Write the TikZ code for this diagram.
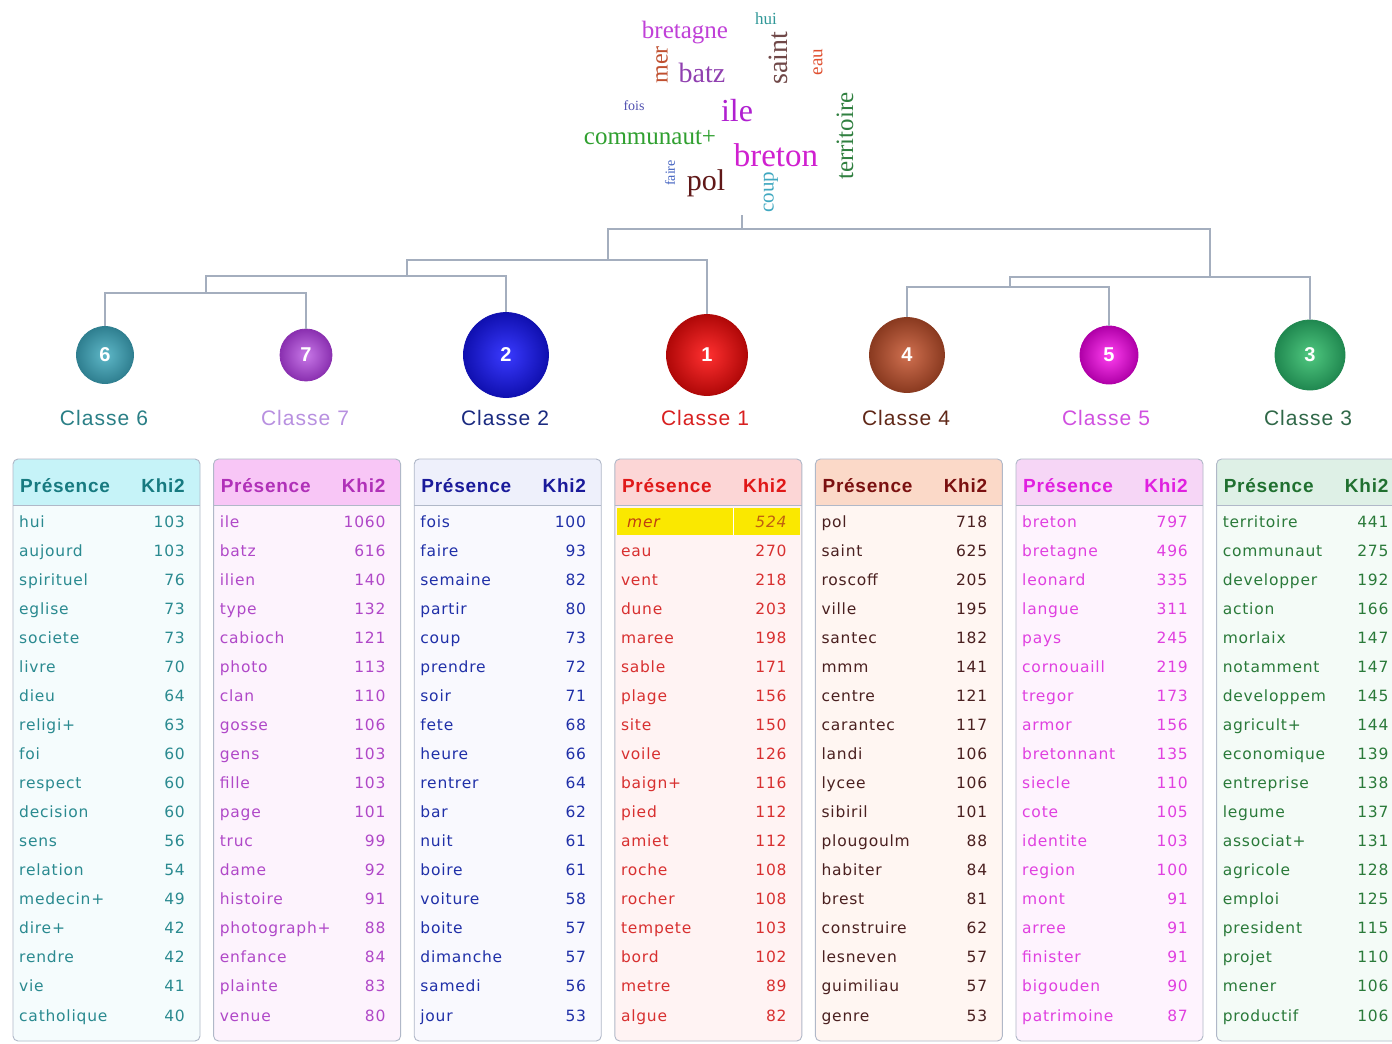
\documentclass[tikz,border=0pt]{standalone}
\usepackage{fontspec}
\setmainfont{Liberation Sans}
\newfontfamily\tabfont[LetterSpace=5]{DejaVu Sans}
\newfontfamily\hdrfont[LetterSpace=4]{Liberation Sans}
\newfontfamily\lblfont[LetterSpace=5]{Liberation Sans}
\newfontfamily\cloudfont{Liberation Serif}

\definecolor{tborder}{HTML}{B0B8C8}
\definecolor{dline}{HTML}{A4AEBE}
% table colours
\definecolor{hA}{HTML}{C6F3F8}\definecolor{bA}{HTML}{F5FCFD}\definecolor{thA}{HTML}{177A80}\definecolor{tbA}{HTML}{2A8A90}
\definecolor{hB}{HTML}{F8C6F6}\definecolor{bB}{HTML}{FDF3FD}\definecolor{thB}{HTML}{B030B8}\definecolor{tbB}{HTML}{B048C8}
\definecolor{hC}{HTML}{EEF0FB}\definecolor{bC}{HTML}{F9F9FE}\definecolor{thC}{HTML}{1A1A9A}\definecolor{tbC}{HTML}{2030A8}
\definecolor{hD}{HTML}{FCD6D6}\definecolor{bD}{HTML}{FFF3F3}\definecolor{thD}{HTML}{E01818}\definecolor{tbD}{HTML}{D83030}
\definecolor{hE}{HTML}{FBD9C8}\definecolor{bE}{HTML}{FFF6F2}\definecolor{thE}{HTML}{7A1010}\definecolor{tbE}{HTML}{4A2020}
\definecolor{hF}{HTML}{F6D6F6}\definecolor{bF}{HTML}{FEF3FE}\definecolor{thF}{HTML}{E020E0}\definecolor{tbF}{HTML}{E040E0}
\definecolor{hG}{HTML}{DEF0E6}\definecolor{bG}{HTML}{F4FBF7}\definecolor{thG}{HTML}{207030}\definecolor{tbG}{HTML}{2A7A3A}
% label colours
\definecolor{l6}{HTML}{2A7F86}\definecolor{l7}{HTML}{B890E0}\definecolor{l2}{HTML}{1A2A80}
\definecolor{l1}{HTML}{D82020}\definecolor{l4}{HTML}{602818}\definecolor{l5}{HTML}{D050E0}\definecolor{l3}{HTML}{306848}
% ball colours
\definecolor{i6}{HTML}{5FB8C8}\definecolor{o6}{HTML}{2F7F90}
\definecolor{i7}{HTML}{C878E8}\definecolor{o7}{HTML}{8A30B0}
\definecolor{i2}{HTML}{3A3AFF}\definecolor{o2}{HTML}{1010B0}
\definecolor{i1}{HTML}{FF3030}\definecolor{o1}{HTML}{B00808}
\definecolor{i4}{HTML}{D07050}\definecolor{o4}{HTML}{8A3A20}
\definecolor{i5}{HTML}{FF40F0}\definecolor{o5}{HTML}{B000A8}
\definecolor{i3}{HTML}{50C880}\definecolor{o3}{HTML}{208850}
% cloud colours
\definecolor{kbretagne}{HTML}{C040D8}\definecolor{khui}{HTML}{309898}
\definecolor{kmer}{HTML}{C05030}\definecolor{kbatz}{HTML}{9040B0}
\definecolor{ksaint}{HTML}{704848}\definecolor{keau}{HTML}{E05030}
\definecolor{kfois}{HTML}{5050B0}\definecolor{kile}{HTML}{B020D0}
\definecolor{kterr}{HTML}{308040}\definecolor{kcomm}{HTML}{30A030}
\definecolor{kbreton}{HTML}{D020D0}\definecolor{kfaire}{HTML}{4060C0}
\definecolor{kpol}{HTML}{601818}\definecolor{kcoup}{HTML}{40A8C0}
\definecolor{hlyellow}{HTML}{FAE800}\definecolor{hltext}{HTML}{C04010}\definecolor{hlnum}{HTML}{C06010}

\tikzset{
  tbox/.style={draw=tborder, line width=0.9pt, rounded corners=5pt},
  sepline/.style={draw=tborder, line width=0.9pt},
  hdr/.style={inner sep=0pt, font=\hdrfont\bfseries\fontsize{19}{22}\selectfont},
  cell/.style={inner sep=0pt, font=\tabfont\fontsize{15.5}{18}\selectfont},
  dendro/.style={draw=dline, line width=1.5pt},
  ball/.style n args={3}{circle, minimum size=#1, inner sep=0pt, shading=radial,
     inner color=#2, outer color=#3, draw=#3, line width=0.8pt,
     text=white, font=\bfseries\fontsize{20}{20}\selectfont},
  clabel/.style={inner sep=0pt, font=\lblfont\fontsize{21}{24}\selectfont},
  cw/.style={inner sep=0pt},
}

\newcommand\drawtable[8]{%
  \fill[#4, rounded corners=5pt] (#2,459) rectangle ++(187,582);
  \fill[#3, rounded corners=5pt] (#2,459) rectangle ++(187,46);
  \fill[#3] (#2,495) rectangle ++(187,10);
  \draw[tbox] (#2,459) rectangle ++(187,582);
  \draw[sepline] (#2,505) -- ++(187,0);
  \node[hdr, text=#5, anchor=base west] (#1-hp) at ({#2+7},492) {Présence};
  \node[hdr, text=#5, anchor=base east] (#1-hk) at ({#2+172},492) {Khi2};
  \foreach \w/\v [count=\r from #7] in {#8} {
    \node[cell, text=#6, anchor=base west] (#1-w\r) at ({#2+6},{527+29.06*\r}) {\w};
    \node[cell, text=#6, anchor=base east] (#1-v\r) at ({#2+172},{527+29.06*\r}) {\v};
  }
}

\begin{document}
\begin{tikzpicture}[x=1pt,y=-1pt]
\path[use as bounding box] (0,0) rectangle (1392,1044);
\begin{scope}
\clip (0,0) rectangle (1392,1044);
\fill[white] (0,0) rectangle (1392,1044);

% ---------- word cloud ----------
\node[cw, text=kbretagne, font=\cloudfont\fontsize{25}{25}\selectfont] (wbretagne) at (685,33) {bretagne};
\node[cw, text=khui, font=\cloudfont\fontsize{17}{17}\selectfont] (whui) at (766,19) {hui};
\node[cw, rotate=90, text=kmer, font=\cloudfont\fontsize{24}{24}\selectfont] (wmer) at (662,65) {mer};
\node[cw, text=kbatz, font=\cloudfont\fontsize{28}{28}\selectfont] (wbatz) at (702,73) {batz};
\node[cw, rotate=90, text=ksaint, font=\cloudfont\fontsize{28}{28}\selectfont] (wsaint) at (778,58) {saint};
\node[cw, rotate=90, text=keau, font=\cloudfont\fontsize{19}{19}\selectfont] (weau) at (818,62) {eau};
\node[cw, text=kfois, font=\cloudfont\fontsize{14}{14}\selectfont] (wfois) at (634,106) {fois};
\node[cw, text=kile, font=\cloudfont\fontsize{32}{32}\selectfont] (wile) at (737,111) {ile};
\node[cw, rotate=90, text=kterr, font=\cloudfont\fontsize{25}{25}\selectfont] (wterritoire) at (845,136) {territoire};
\node[cw, text=kcomm, font=\cloudfont\fontsize{25}{25}\selectfont] (wcommunaut) at (650,138) {communaut+};
\node[cw, text=kbreton, font=\cloudfont\fontsize{33}{33}\selectfont] (wbreton) at (776,155) {breton};
\node[cw, rotate=90, text=kfaire, font=\cloudfont\fontsize{14}{14}\selectfont] (wfaire) at (670,173) {faire};
\node[cw, text=kpol, font=\cloudfont\fontsize{30}{30}\selectfont] (wpol) at (706,183) {pol};
\node[cw, rotate=90, text=kcoup, font=\cloudfont\fontsize{21}{21}\selectfont] (wcoup) at (771,192) {coup};

% ---------- circles ----------
\node[ball={57pt}{i6}{o6}] (c6) at (105,355) {6};
\node[ball={52pt}{i7}{o7}] (c7) at (306,355) {7};
\node[ball={85pt}{i2}{o2}] (c2) at (506,355) {2};
\node[ball={81pt}{i1}{o1}] (c1) at (707,355) {1};
\node[ball={75pt}{i4}{o4}] (c4) at (907,355) {4};
\node[ball={58pt}{i5}{o5}] (c5) at (1109,355) {5};
\node[ball={70pt}{i3}{o3}] (c3) at (1310,355) {3};

% ---------- class labels ----------
\node[clabel, text=l6] (lab6) at (104,418) {Classe 6};
\node[clabel, text=l7] (lab7) at (305,418) {Classe 7};
\node[clabel, text=l2] (lab2) at (505,418) {Classe 2};
\node[clabel, text=l1] (lab1) at (705,418) {Classe 1};
\node[clabel, text=l4] (lab4) at (906,418) {Classe 4};
\node[clabel, text=l5] (lab5) at (1106,418) {Classe 5};
\node[clabel, text=l3] (lab3) at (1308,418) {Classe 3};

% ---------- dendrogram ----------
\coordinate (top) at (742,215);
\coordinate (jroot) at (742,229);
\coordinate (j6721) at (608,260);
\coordinate (j672) at (407,276);
\coordinate (j67) at (206,293);
\coordinate (j453) at (1210,277);
\coordinate (j45) at (1010,287);
\draw[dendro] (c6.north) |- (j67) -| (c7.north);
\draw[dendro] (j67) |- (j672) -| (c2.north);
\draw[dendro] (j672) |- (j6721) -| (c1.north);
\draw[dendro] (c4.north) |- (j45) -| (c5.north);
\draw[dendro] (j45) |- (j453) -| (c3.north);
\draw[dendro] (j6721) |- (jroot) -| (j453);
\draw[dendro] (top) -- (jroot);

% ---------- tables ----------
\drawtable{T6}{13}{hA}{bA}{thA}{tbA}{0}{hui/103,aujourd/103,spirituel/76,eglise/73,societe/73,livre/70,dieu/64,religi+/63,foi/60,respect/60,decision/60,sens/56,relation/54,medecin+/49,dire+/42,rendre/42,vie/41,catholique/40}
\drawtable{T7}{213.6}{hB}{bB}{thB}{tbB}{0}{ile/1060,batz/616,ilien/140,type/132,cabioch/121,photo/113,clan/110,gosse/106,gens/103,fille/103,page/101,truc/99,dame/92,histoire/91,photograph+/88,enfance/84,plainte/83,venue/80}
\drawtable{T2}{414.2}{hC}{bC}{thC}{tbC}{0}{fois/100,faire/93,semaine/82,partir/80,coup/73,prendre/72,soir/71,fete/68,heure/66,rentrer/64,bar/62,nuit/61,boire/61,voiture/58,boite/57,dimanche/57,samedi/56,jour/53}
\drawtable{T1}{614.8}{hD}{bD}{thD}{tbD}{1}{eau/270,vent/218,dune/203,maree/198,sable/171,plage/156,site/150,voile/126,baign+/116,pied/112,amiet/112,roche/108,rocher/108,tempete/103,bord/102,metre/89,algue/82}
\fill[hlyellow] (617,508) rectangle (800,535);
\draw[white, line width=0.8pt] (733,508) -- (733,535);
\node[cell, text=hltext, anchor=base west, font=\tabfont\itshape\fontsize{15.5}{18}\selectfont] (T1-w0) at (627,527) {mer};
\node[cell, text=hlnum, anchor=base east, font=\tabfont\itshape\fontsize{15.5}{18}\selectfont] (T1-v0) at (786.8,527) {524};
\drawtable{T4}{815.4}{hE}{bE}{thE}{tbE}{0}{pol/718,saint/625,roscoff/205,ville/195,santec/182,mmm/141,centre/121,carantec/117,landi/106,lycee/106,sibiril/101,plougoulm/88,habiter/84,brest/81,construire/62,lesneven/57,guimiliau/57,genre/53}
\drawtable{T5}{1016}{hF}{bF}{thF}{tbF}{0}{breton/797,bretagne/496,leonard/335,langue/311,pays/245,cornouaill/219,tregor/173,armor/156,bretonnant/135,siecle/110,cote/105,identite/103,region/100,mont/91,arree/91,finister/91,bigouden/90,patrimoine/87}
\drawtable{T3}{1216.6}{hG}{bG}{thG}{tbG}{0}{territoire/441,communaut/275,developper/192,action/166,morlaix/147,notamment/147,developpem/145,agricult+/144,economique/139,entreprise/138,legume/137,associat+/131,agricole/128,emploi/125,president/115,projet/110,mener/106,productif/106}
\end{scope}
\end{tikzpicture}
\end{document}
